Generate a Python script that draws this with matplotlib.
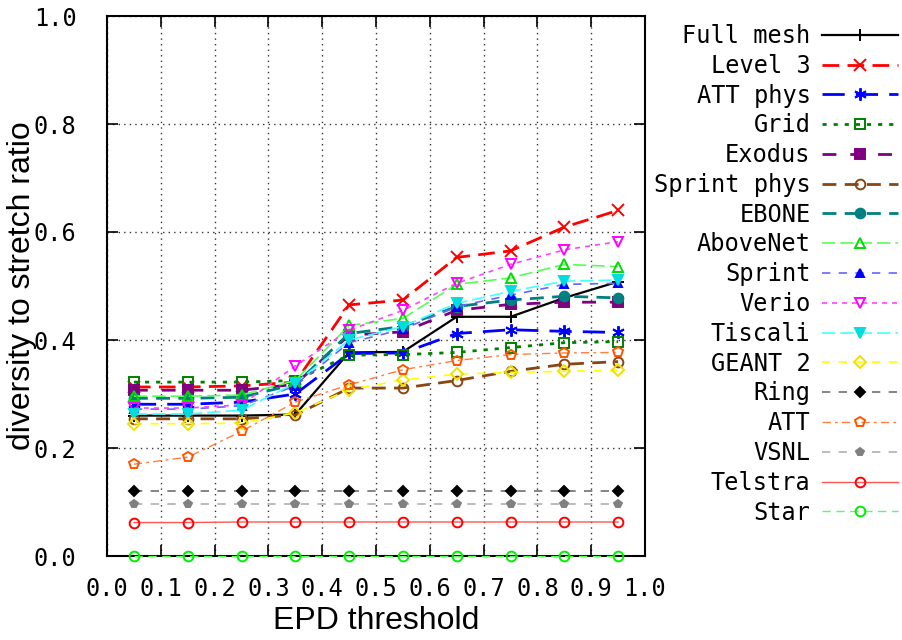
import matplotlib
matplotlib.use("Agg")
import matplotlib.pyplot as plt
import numpy as np

thresholds = [0.05, 0.15, 0.25, 0.35, 0.45, 0.55, 0.65, 0.75, 0.85, 0.95]

full_mesh   = [0.260, 0.260, 0.260, 0.262, 0.377, 0.378, 0.443, 0.443, 0.478, 0.508]
level3      = [0.313, 0.313, 0.315, 0.322, 0.465, 0.474, 0.553, 0.565, 0.609, 0.640]
att_phys    = [0.281, 0.281, 0.285, 0.300, 0.375, 0.376, 0.412, 0.419, 0.416, 0.414]
grid_top    = [0.322, 0.322, 0.322, 0.325, 0.372, 0.373, 0.377, 0.386, 0.395, 0.397]
exodus      = [0.307, 0.307, 0.307, 0.318, 0.409, 0.415, 0.455, 0.466, 0.470, 0.470]
sprint_phys = [0.254, 0.254, 0.254, 0.261, 0.311, 0.311, 0.325, 0.342, 0.355, 0.360]
ebone       = [0.292, 0.292, 0.294, 0.318, 0.412, 0.425, 0.462, 0.474, 0.481, 0.478]
abovenet    = [0.296, 0.296, 0.298, 0.325, 0.427, 0.440, 0.503, 0.515, 0.540, 0.536]
sprint      = [0.272, 0.272, 0.278, 0.315, 0.395, 0.420, 0.462, 0.483, 0.503, 0.505]
verio       = [0.274, 0.274, 0.280, 0.352, 0.418, 0.455, 0.505, 0.540, 0.567, 0.582]
tiscali     = [0.263, 0.263, 0.270, 0.320, 0.400, 0.425, 0.468, 0.490, 0.509, 0.511]
geant2      = [0.245, 0.245, 0.246, 0.265, 0.308, 0.326, 0.337, 0.340, 0.342, 0.344]
ring        = [0.121] * 10
att         = [0.170, 0.183, 0.231, 0.285, 0.317, 0.345, 0.362, 0.373, 0.376, 0.377]
vsnl        = [0.096] * 10
telstra     = [0.062, 0.062, 0.063, 0.063, 0.063, 0.063, 0.063, 0.063, 0.063, 0.063]
star        = [0.0] * 10

labels = ["Full mesh", "Level 3", "ATT phys", "Grid", "Exodus", "Sprint phys",
          "EBONE", "AboveNet", "Sprint", "Verio", "Tiscali", "GEANT 2", "Ring",
          "ATT", "VSNL", "Telstra", "Star"]
series = [full_mesh, level3, att_phys, grid_top, exodus, sprint_phys, ebone,
          abovenet, sprint, verio, tiscali, geant2, ring, att, vsnl, telstra, star]

# (line color, linestyle, lw, marker, marker color, filled, marker size)
styles = [
    ("black",   "-",             1.6, "+",       "black",   True,  9),
    ("#ff0000", (0, (6, 3)),     2.0, "x",       "#ff0000", True,  9),
    ("#0000ff", (0, (8, 4)),     2.0, (6, 2, 0), "#0000ff", True,  9),
    ("#008000", (0, (1.5, 2.5)), 2.0, "s",       "#008000", False, 7),
    ("#800080", (0, (5, 5)),     2.0, "s",       "#800080", True,  7),
    ("#8b4513", (0, (5, 3)),     2.0, "o",       "#8b4513", False, 7),
    ("#008080", (0, (5, 3)),     2.0, "o",       "#008080", True,  7),
    ("#55ff55", (0, (8, 3)),     1.2, "^",       "#00dd00", False, 7),
    ("#6666ff", (0, (5, 5)),     1.2, "^",       "#0000ff", True,  6),
    ("#ff44ff", (0, (3, 3)),     1.2, "v",       "#ff00ff", False, 7),
    ("#44ffff", (0, (8, 3)),     1.2, "v",       "#00dddd", True,  7),
    ("#ffff00", (0, (5, 5)),     1.2, "D",       "#f0e000", False, 6),
    ("#707070", (0, (5, 5)),     1.2, "D",       "black",   True,  5),
    ("#ff7f3f", (0, (6, 3, 2, 3)), 1.0, "p",     "#ff5500", False, 7),
    ("#b0b0b0", (0, (5, 5)),     1.2, "p",       "#808080", True,  6),
    ("#ff5555", "-",             1.0, "o",       "#ff0000", False, 7),
    ("#55ff55", (0, (6, 4)),     1.0, "o",       "#00ee00", False, 7),
]

fig = plt.figure(figsize=(9.02, 6.40), dpi=100)
ax = fig.add_axes([107/902, 84/640, 538/902, 540/640])

handles = []
for lab, ys, st in zip(labels, series, styles):
    lc, ls, lw, mk, mc, filled, ms = st
    h, = ax.plot(thresholds, ys, color=lc, linestyle=ls, linewidth=lw,
                 marker=mk, markersize=ms, markeredgecolor=mc,
                 markerfacecolor=(mc if filled else "none"),
                 markeredgewidth=1.4, label=lab, clip_on=False, zorder=3)
    handles.append(h)

ax.set_xlim(0, 1)
ax.set_ylim(0, 1)
ax.set_xticks(np.arange(0, 1.01, 0.1))
ax.set_yticks(np.arange(0, 1.01, 0.2))
ax.set_xticklabels([f"{v:.1f}" for v in np.arange(0, 1.01, 0.1)])
ax.set_yticklabels([f"{v:.1f}" for v in np.arange(0, 1.01, 0.2)])

mono = "DejaVu Sans Mono"
for t in ax.get_xticklabels() + ax.get_yticklabels():
    t.set_family(mono)
    t.set_fontsize(17)

ax.tick_params(direction="in", length=8, width=1.2, top=True, right=True)
ax.tick_params(axis="x", pad=15)
ax.tick_params(axis="y", pad=22)

ax.grid(True, linestyle=(0, (1, 3)), color="black", linewidth=1.0, alpha=0.8)
ax.set_axisbelow(True)
for s in ax.spines.values():
    s.set_linewidth(1.5)

sans = "Liberation Sans"
ax.set_xlabel("EPD threshold", fontsize=23, family=sans, va="center")
ax.set_ylabel("diversity to stretch ratio", fontsize=23, family=sans, va="center")
ax.xaxis.set_label_coords(0.5, (556 - 621) / 540)
ax.yaxis.set_label_coords((22 - 107) / 538, 0.5)

leg = fig.legend(handles=handles, labels=labels, loc="upper right",
                 bbox_to_anchor=(898/902, 1 - 24/640), frameon=False,
                 borderaxespad=0, borderpad=0,
                 markerfirst=False, numpoints=1, handlelength=3.2,
                 handletextpad=0.5, labelspacing=0.245,
                 prop={"family": mono, "size": 17})

fig.savefig("out.png", dpi=100)
